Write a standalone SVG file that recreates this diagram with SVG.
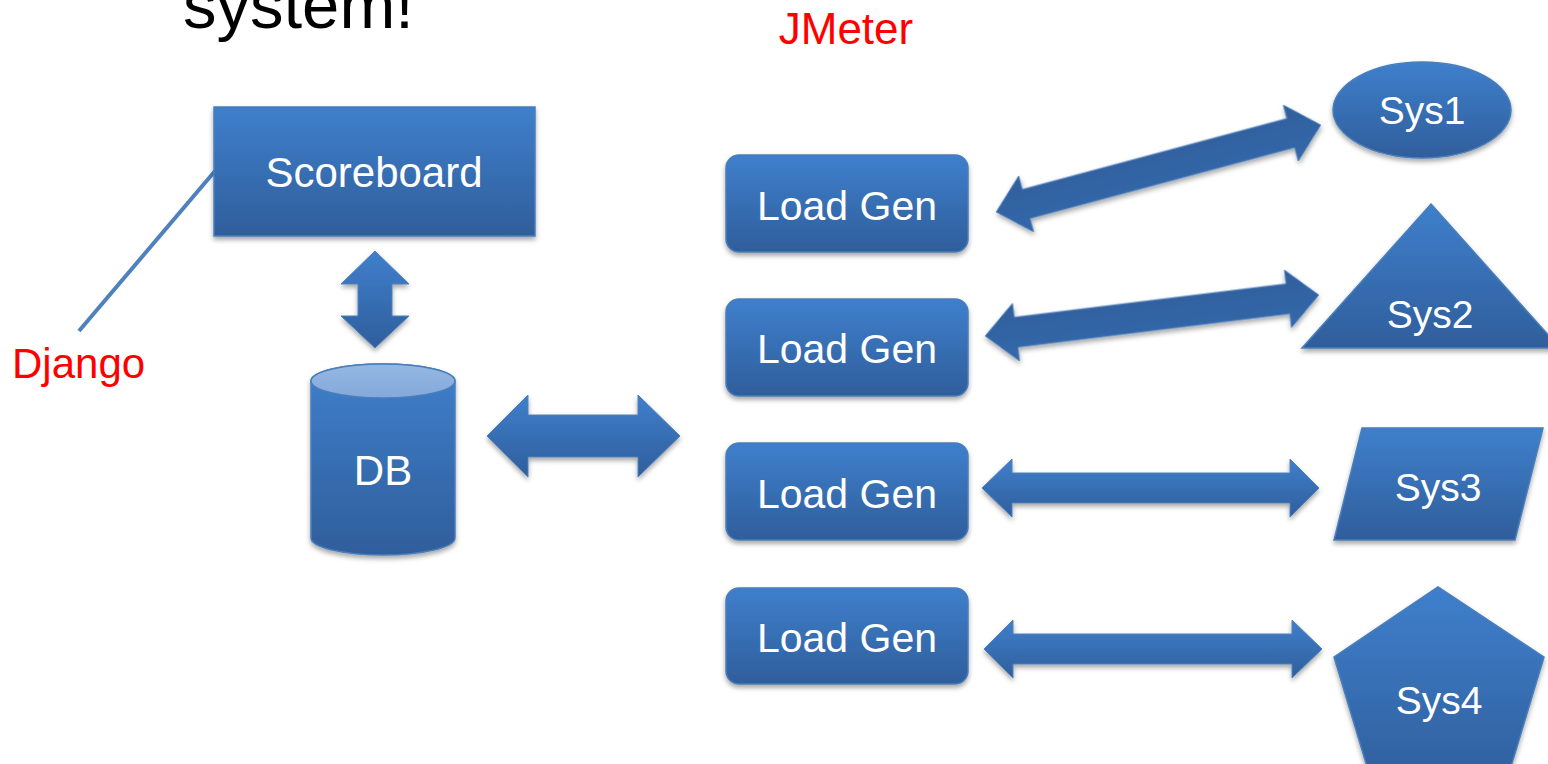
<svg xmlns="http://www.w3.org/2000/svg" width="1548" height="764" viewBox="0 0 1548 764">
<style>
.shape{fill:url(#blue);stroke:#4a7ebb;stroke-width:1.5;filter:url(#sh)}
.arrow{fill:url(#blue);stroke:#4f81bd;stroke-width:1;filter:url(#sh)}
.arrow2{fill:url(#dark);stroke:#4f81bd;stroke-width:1;filter:url(#sh)}
.lbl{font-family:"Liberation Sans",Arial,sans-serif;fill:#ffffff;text-anchor:middle}
.red{font-family:"Liberation Sans",Arial,sans-serif;fill:#ff0000}
</style>
<defs>
<linearGradient id="blue" x1="0" y1="0" x2="0" y2="1">
<stop offset="0" stop-color="#3f7fcc"/>
<stop offset="1" stop-color="#2f5e9b"/>
</linearGradient>
<linearGradient id="dark" x1="0" y1="0" x2="0" y2="1">
<stop offset="0" stop-color="#2f5f9c"/>
<stop offset="1" stop-color="#3568aa"/>
</linearGradient>
<linearGradient id="top" x1="0" y1="0" x2="0" y2="1">
<stop offset="0" stop-color="#95b7e3"/>
<stop offset="1" stop-color="#84a9da"/>
</linearGradient>
<filter id="sh" x="-10%" y="-10%" width="120%" height="130%">
<feDropShadow dx="0" dy="3" stdDeviation="2.5" flood-color="#000" flood-opacity="0.35"/>
</filter>
</defs>
<rect width="1548" height="764" fill="#ffffff"/>
<text x="183" y="28" font-family="Liberation Sans,Arial,sans-serif" font-size="67" fill="#000">system!</text>
<text class="red" x="846" y="44" font-size="44" text-anchor="middle">JMeter</text>
<text class="red" x="12" y="378" font-size="42">Django</text>

<g id="connectors">
<line x1="79" y1="331" x2="215" y2="171" stroke="#4f81bd" stroke-width="4"/>
<polygon class="arrow" points="375,251 409,284 392,284 392,316 409,316 375,348 341,316 358,316 358,284 341,284"/>
<polygon class="arrow" points="487,436 528,395 528,415 638,415 638,395 680,436 638,477 638,457 528,457 528,477"/>
<polygon class="arrow2" transform="translate(1158.5,168.5) rotate(-15)" points="-168,0 -137,-29 -137,-15 137,-15 137,-29 168,0 137,29 137,15 -137,15 -137,29"/>
<polygon class="arrow2" transform="translate(1152,315.5) rotate(-7)" points="-168,0 -137,-29 -137,-15 137,-15 137,-29 168,0 137,29 137,15 -137,15 -137,29"/>
<polygon class="arrow" points="982,488 1012,459 1012,473 1290,473 1290,459 1319,488 1290,517 1290,503 1012,503 1012,517"/>
<polygon class="arrow" points="984,649 1013,620 1013,634 1292,634 1292,620 1322,649 1292,678 1292,664 1013,664 1013,678"/>
</g>

<g id="scoreboard">
<rect class="shape" x="214" y="107" width="321" height="129"/>
<text class="lbl" x="374" y="187" font-size="42">Scoreboard</text>
</g>
<g id="db">
<path class="shape" d="M311,381 L311,538 A72,17 0 0 0 455,538 L455,381 A72,17 0 0 0 311,381 Z"/>
<ellipse cx="383" cy="381" rx="72" ry="17" fill="url(#top)" stroke="#4a7ebb" stroke-width="1.5"/>
<text class="lbl" x="383" y="485" font-size="42">DB</text>
</g>
<g id="loadgen1">
<rect class="shape" x="726" y="155" width="242" height="97" rx="13"/>
<text class="lbl" x="847" y="220" font-size="41">Load Gen</text>
</g>
<g id="loadgen2">
<rect class="shape" x="726" y="299" width="242" height="97" rx="13"/>
<text class="lbl" x="847" y="363" font-size="41">Load Gen</text>
</g>
<g id="loadgen3">
<rect class="shape" x="726" y="443" width="242" height="97" rx="13"/>
<text class="lbl" x="847" y="508" font-size="41">Load Gen</text>
</g>
<g id="loadgen4">
<rect class="shape" x="726" y="588" width="242" height="96" rx="13"/>
<text class="lbl" x="847" y="652" font-size="41">Load Gen</text>
</g>
<g id="sys1">
<ellipse class="shape" cx="1422" cy="110" rx="89" ry="48"/>
<text class="lbl" x="1422" y="124" font-size="39">Sys1</text>
</g>
<g id="sys2">
<polygon class="shape" points="1431,204 1560,348 1302,348"/>
<text class="lbl" x="1430" y="328" font-size="39">Sys2</text>
</g>
<g id="sys3">
<polygon class="shape" points="1362,428 1543,428 1515,540 1334,540"/>
<text class="lbl" x="1438" y="501" font-size="39">Sys3</text>
</g>
<g id="sys4">
<polygon class="shape" points="1438,587 1544,657 1504,790 1374,790 1334,657"/>
<text class="lbl" x="1439" y="714" font-size="39">Sys4</text>
</g>
</svg>
